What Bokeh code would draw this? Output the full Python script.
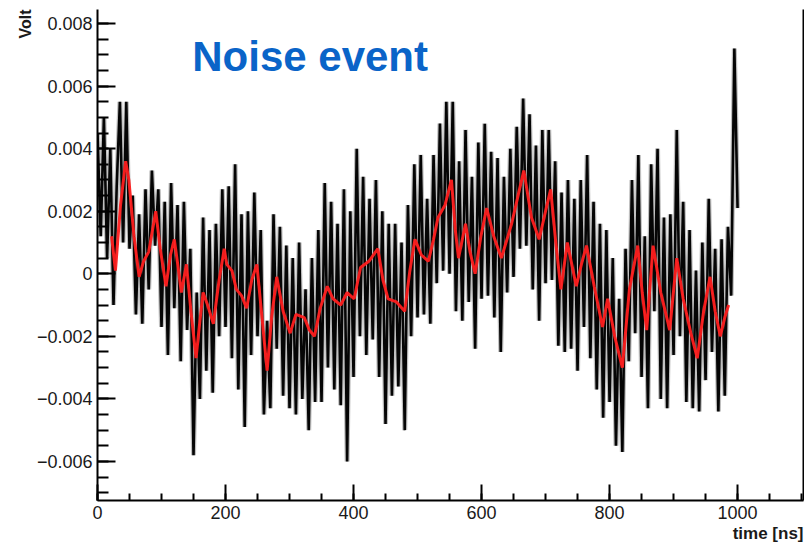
from bokeh.plotting import figure
from bokeh.models import Range1d, FixedTicker, LinearAxis, Label, Title, CustomJSTickFormatter
from bokeh.embed import file_html
from bokeh.resources import INLINE

# ---- data ----
time_ns = list(range(0, 1005, 5))
volt = [
    0.0045, 0.0012, 0.0050, 0.0005, 0.0040, -0.0010, 0.0028, 0.0055, 0.0010, 0.0055,
    0.0008, 0.0025, -0.0013, 0.0019, -0.0016, 0.0027, -0.0005, 0.0033, 0.0009, 0.0027,
    -0.0017, 0.0023, -0.0026, 0.0029, -0.0011, 0.0022, -0.0028, 0.0023, -0.0018, 0.0008,
    -0.0058, -0.0006, -0.0040, 0.0018, -0.0031, 0.0014, -0.0038, 0.0016, -0.0020, 0.0027,
    -0.0017, 0.0028, -0.0027, 0.0035, -0.0037, 0.0019, -0.0049, 0.0020, -0.0026, 0.0026,
    -0.0020, 0.0014, -0.0045, -0.0015, -0.0043, 0.0019, -0.0024, 0.0015, -0.0039, 0.0009,
    -0.0043, 0.0005, -0.0045, 0.0010, -0.0040, -0.0005, -0.0050, 0.0005, -0.0041, 0.0014,
    -0.0041, 0.0029, -0.0030, 0.0023, -0.0037, 0.0016, -0.0042, 0.0027, -0.0060, 0.0020,
    -0.0033, 0.0040, -0.0020, 0.0031, -0.0026, 0.0024, -0.0021, 0.0030, -0.0033, 0.0020,
    -0.0048, 0.0016, -0.0039, 0.0016, -0.0036, 0.0010, -0.0050, 0.0022, -0.0020, 0.0035,
    -0.0014, 0.0038, -0.0013, 0.0024, -0.0016, 0.0038, -0.0003, 0.0048, 0.0001, 0.0055,
    0.0000, 0.0055, -0.0012, 0.0036, -0.0015, 0.0046, -0.0009, 0.0031, -0.0024, 0.0042,
    -0.0008, 0.0048, -0.0007, 0.0039, -0.0014, 0.0037, -0.0025, 0.0031, -0.0006, 0.0040,
    -0.0001, 0.0047, 0.0008, 0.0056, 0.0009, 0.0051, -0.0005, 0.0041, -0.0015, 0.0046,
    -0.0003, 0.0046, -0.0002, 0.0036, -0.0023, 0.0026, -0.0025, 0.0030, -0.0024, 0.0024,
    -0.0031, 0.0030, -0.0017, 0.0038, -0.0027, 0.0023, -0.0037, 0.0016, -0.0046, 0.0014,
    -0.0041, 0.0005, -0.0055, -0.0008, -0.0057, 0.0008, -0.0028, 0.0030, -0.0019, 0.0038,
    -0.0033, 0.0012, -0.0043, 0.0035, -0.0012, 0.0040, -0.0040, 0.0018, -0.0043, 0.0019,
    -0.0026, 0.0046, -0.0020, 0.0023, -0.0041, 0.0014, -0.0043, 0.0001, -0.0044, 0.0010,
    -0.0034, 0.0024, -0.0025, 0.0008, -0.0044, 0.0011, -0.0039, 0.0015, -0.0007, 0.0072,
    0.0021,
]

smooth_time = [
    22, 28, 36, 44, 49, 57, 65, 72, 80, 91, 98, 107, 114, 120, 126, 131, 139, 146, 154, 160,
    165, 172, 181, 190, 198, 202, 210, 217, 225, 233, 241, 249, 257, 265, 272, 280, 290, 301, 310, 323,
    331, 339, 348, 359, 368, 380, 390, 401, 411, 424, 438, 446, 454, 467, 480, 488, 496, 506, 517, 525,
    532, 543, 553, 559, 564, 575, 582, 590, 599, 608, 619, 631, 647, 656, 666, 678, 690, 700, 708, 716,
    724, 734, 748, 756, 764, 776, 789, 797, 808, 820, 831, 844, 851, 858, 868, 880, 894, 905, 915, 927,
    937, 947, 957, 965, 973, 980, 986,
]
smooth_volt = [
    0.0012, 0.0001, 0.0022, 0.0036, 0.0030, 0.0012, -0.0001, 0.0004, 0.0007, 0.0020,
    0.0008, -0.0004, 0.0006, 0.0011, 0.0002, -0.0006, 0.0003, -0.0012, -0.0027, -0.0015,
    -0.0006, -0.0010, -0.0016, -0.0002, 0.0008, 0.0003, 0.0001, -0.0005, -0.0007, -0.0011,
    -0.0002, 0.0003, -0.0014, -0.0031, -0.0014, -0.0001, -0.0012, -0.0019, -0.0013, -0.0014,
    -0.0018, -0.0020, -0.0011, -0.0004, -0.0008, -0.0010, -0.0006, -0.0008, 0.0002, 0.0004,
    0.0008, -0.0002, -0.0008, -0.0009, -0.0012, 0.0001, 0.0011, 0.0006, 0.0004, 0.0011,
    0.0018, 0.0022, 0.0030, 0.0014, 0.0005, 0.0016, 0.0007, 0.0000, 0.0012, 0.0021,
    0.0012, 0.0005, 0.0016, 0.0024, 0.0033, 0.0018, 0.0011, 0.0020, 0.0027, 0.0010,
    -0.0005, 0.0010, -0.0004, 0.0003, 0.0009, -0.0004, -0.0017, -0.0008, -0.0020, -0.0030,
    -0.0005, 0.0009, -0.0006, -0.0018, 0.0009, -0.0006, -0.0018, 0.0005, -0.0008, -0.0019,
    -0.0027, -0.0012, -0.0001, -0.0012, -0.0020, -0.0014, -0.0010,
]

x_major = [0, 200, 400, 600, 800, 1000]
x_minor = list(range(0, 1101, 50))
y_major = [-0.006, -0.004, -0.002, 0.0, 0.002, 0.004, 0.006, 0.008]
y_minor = [k * 0.0005 for k in range(-14, 17)]

title_text = "Noise event"
x_title = "time [ns]"
y_title = "Volt"

# ---- figure ----
FONT = "Liberation Sans"
p = figure(width=804, height=547, output_backend="svg", toolbar_location=None,
           x_range=Range1d(0, 1103), y_range=Range1d(-0.00725, 0.00845),
           min_border_left=97, min_border_right=1, min_border_top=9, min_border_bottom=47)
p.outline_line_color = None
p.grid.visible = False
p.background_fill_color = "white"
p.border_fill_color = "white"

p.line(time_ns, volt, line_color="#8a8a8a", line_width=5, line_alpha=0.55)
p.line(time_ns, volt, line_color="#050505", line_width=2.6)
p.line(smooth_time, smooth_volt, line_color="#ff1e1e", line_width=3, line_alpha=0.95)

xa = p.xaxis[0]
xa.ticker = FixedTicker(ticks=x_major, minor_ticks=x_minor)
xa.major_tick_in = 16
xa.major_tick_out = 0
xa.minor_tick_in = 7
xa.minor_tick_out = 0
xa.major_label_standoff = 5

ya = p.yaxis[0]
ya.ticker = FixedTicker(ticks=y_major, minor_ticks=y_minor)
ya.formatter = CustomJSTickFormatter(code="""
if (Math.abs(tick) < 1e-12) return '0';
return (tick < 0 ? '\u2212' : '') + Math.abs(tick).toFixed(3);
""")
ya.major_tick_in = 18
ya.major_tick_out = 0
ya.minor_tick_in = 11
ya.minor_tick_out = 0
ya.major_label_standoff = 5

for ax in (xa, ya):
    ax.axis_line_width = 2
    ax.axis_line_color = "black"
    ax.major_tick_line_width = 2
    ax.minor_tick_line_width = 2
    ax.major_tick_line_color = "black"
    ax.minor_tick_line_color = "black"
    ax.major_label_text_font = FONT
    ax.major_label_text_font_size = "18px"
    ax.major_label_text_color = "#1a1a1a"

ra = LinearAxis(ticker=FixedTicker(ticks=[]), major_label_text_font_size="0px",
                major_tick_out=0, major_tick_in=0, minor_tick_out=0, minor_tick_in=0,
                axis_line_width=2, axis_line_color="black", major_label_standoff=0)
p.add_layout(ra, "right")

p.add_layout(Title(text=x_title, align="right", text_font=FONT, text_font_style="bold",
                   text_font_size="17px", text_color="#1a1a1a", standoff=0, offset=0), "below")
p.add_layout(Title(text=y_title, align="right", text_font=FONT, text_font_style="bold",
                   text_font_size="16px", text_color="#1a1a1a", standoff=0, offset=0), "left")

p.add_layout(Label(x=148, y=0.00694, text=title_text, text_font=FONT, text_font_style="bold",
                   text_font_size="42px", text_color="#0a64c8", text_baseline="middle"))

open("out.html", "w").write(file_html(p, INLINE))
